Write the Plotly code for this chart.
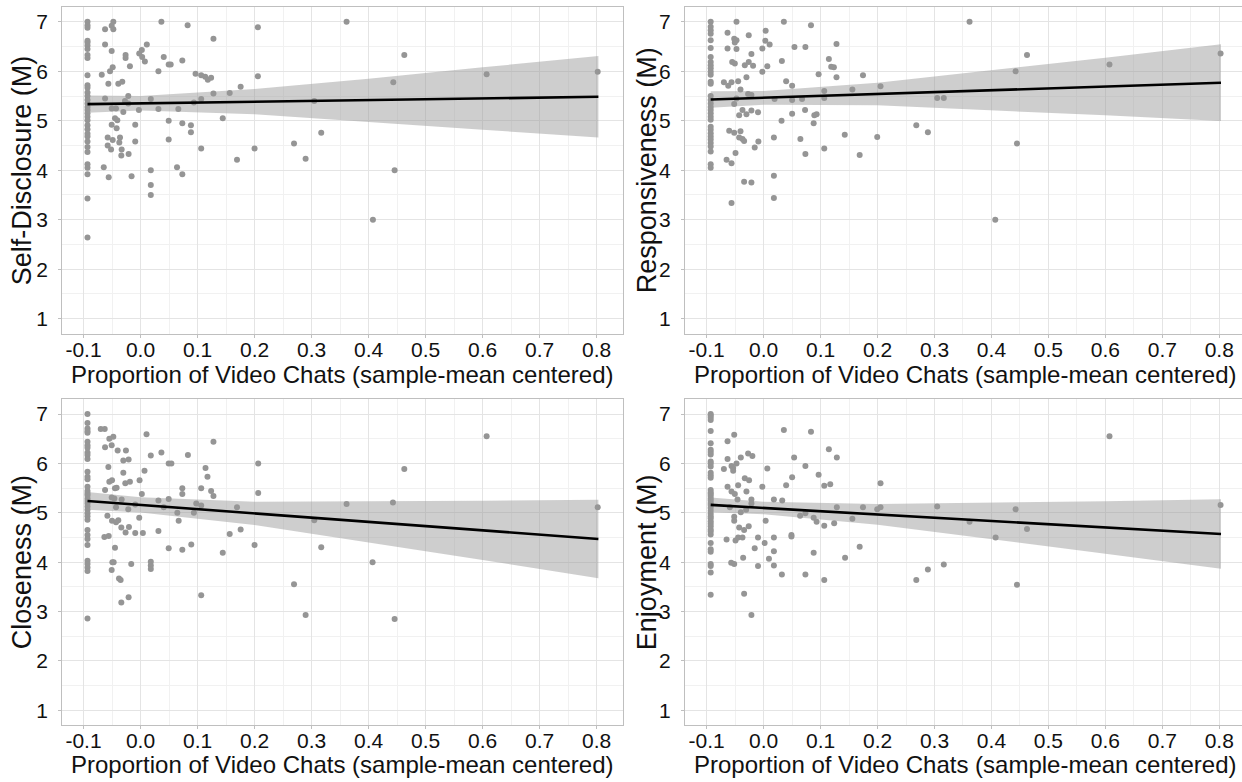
import plotly.graph_objects as go

# ---------------- data ----------------
x_ticks = [-0.1, 0.0, 0.1, 0.2, 0.3, 0.4, 0.5, 0.6, 0.7, 0.8]
x_tick_labels = ["-0.1", "0.0", "0.1", "0.2", "0.3", "0.4", "0.5", "0.6", "0.7", "0.8"]
x_minor = [-0.05, 0.05, 0.15, 0.25, 0.35, 0.45, 0.55, 0.65, 0.75]
y_ticks = [1, 2, 3, 4, 5, 6, 7]
y_tick_labels = ["1", "2", "3", "4", "5", "6", "7"]
y_minor = [1.5, 2.5, 3.5, 4.5, 5.5, 6.5]

x_title = "Proportion of Video Chats (sample-mean centered)"
y_titles = ["Self-Disclosure (M)", "Responsiveness (M)", "Closeness (M)", "Enjoyment (M)"]

# participants with no video chats all sit at the same centered value
x_floor = -0.093

sd_floor_y = [7.0, 6.93, 6.88, 6.62, 6.58, 6.52, 6.45, 6.33, 6.27, 5.92, 5.72, 5.67, 5.57, 5.5,
              5.42, 5.35, 5.28, 5.22, 5.15, 5.08, 5.01, 4.91, 4.83, 4.74, 4.68, 4.58, 4.47, 4.37,
              4.12, 4.05, 3.92, 3.43, 2.64]
sd_points = [(-0.0622, 6.85), (-0.0477, 7.0), (-0.0506, 6.92), (-0.0477, 6.85), (-0.0622, 6.54),
             (-0.0506, 6.41), (-0.068, 5.93), (-0.0535, 6.0), (-0.0488, 6.08), (-0.0564, 5.75),
             (-0.039, 5.75), (-0.032, 5.79), (-0.0622, 5.45), (-0.0506, 5.25), (-0.043, 5.25),
             (-0.0302, 5.18), (-0.0273, 5.40), (-0.0215, 5.50), (-0.0215, 5.35), (-0.0448, 5.05),
             (-0.0407, 5.01), (-0.0506, 4.92), (-0.0419, 4.85), (-0.0576, 4.66), (-0.0488, 4.61),
             (-0.036, 4.66), (-0.0372, 4.56), (-0.0576, 4.50), (-0.0517, 4.42), (-0.0331, 4.42),
             (-0.0337, 4.30), (-0.0209, 4.33), (-0.0093, 4.92), (-0.0093, 4.58), (-0.0645, 4.06),
             (-0.0558, 3.86), (-0.0157, 3.88), (-0.0029, 5.22), (-0.0262, 6.33), (-0.0262, 6.27),
             (-0.0186, 6.10), (-0.0023, 6.36), (0.0023, 6.43), (0.0029, 6.29), (0.0076, 6.20),
             (0.011, 6.54), (0.018, 5.44), (0.0314, 6.0), (0.0314, 5.24), (0.0366, 7.0),
             (0.0407, 6.29), (0.0494, 6.14), (0.0529, 6.14), (0.0494, 5.0), (0.0494, 4.62),
             (0.0663, 5.24), (0.0733, 6.22), (0.0733, 4.95), (0.064, 4.06), (0.0733, 3.92),
             (0.018, 4.0), (0.018, 3.70), (0.018, 3.50), (0.0826, 6.93), (0.0884, 4.91),
             (0.0884, 4.77), (0.0936, 5.37), (0.0965, 5.95), (0.1064, 5.92), (0.1064, 5.44),
             (0.1064, 4.44), (0.1134, 5.89), (0.118, 5.83), (0.1238, 5.87), (0.1279, 6.66),
             (0.1279, 5.55), (0.1442, 5.05), (0.1564, 5.56), (0.1692, 4.21), (0.1756, 5.69),
             (0.2, 4.44), (0.2058, 6.89), (0.2058, 5.90), (0.2692, 4.54), (0.2895, 4.23),
             (0.3047, 5.40), (0.3169, 4.76), (0.3614, 7.0), (0.4626, 6.33), (0.4433, 5.78),
             (0.4456, 4.0), (0.4076, 3.0), (0.607, 5.94), (0.8018, 5.99)]

resp_floor_y = [7.0, 6.9, 6.83, 6.76, 6.63, 6.47, 6.29, 6.19, 6.12, 6.06, 5.99, 5.93, 5.79, 5.75,
                5.5, 5.42, 5.35, 5.28, 5.22, 5.15, 5.08, 5.02, 4.88, 4.82, 4.75, 4.68, 4.62, 4.55,
                4.48, 4.38, 4.12, 4.05]
resp_points = [(-0.0477, 7.0), (-0.0634, 6.78), (-0.0262, 6.73), (-0.0517, 6.66), (-0.0477, 6.63),
               (-0.0506, 6.58), (-0.0634, 6.46), (-0.0477, 6.45), (-0.0215, 6.35), (-0.0552, 6.19),
               (-0.0506, 6.16), (-0.0331, 6.12), (-0.0262, 6.19), (-0.0186, 6.11), (-0.0023, 6.46),
               (0.0035, 6.82), (0.0029, 6.62), (0.0105, 6.54), (0.0355, 7.0), (0.0831, 6.93),
               (0.0541, 6.49), (0.0733, 6.49), (0.1279, 6.55), (0.1145, 6.25), (0.1186, 6.09),
               (0.1233, 6.08), (0.032, 6.21), (0.0064, 6.10), (-0.0023, 5.99), (-0.0302, 5.88),
               (-0.0698, 5.78), (-0.0622, 5.71), (-0.0564, 5.78), (-0.0448, 5.80), (-0.0407, 5.63),
               (-0.0477, 5.45), (-0.0273, 5.54), (-0.0215, 5.52), (-0.0517, 5.34), (-0.043, 5.11),
               (-0.0372, 5.22), (-0.0302, 5.13), (-0.0215, 5.21), (-0.0099, 5.17), (0.0192, 5.44),
               (0.0395, 5.80), (0.05, 5.71), (0.05, 5.42), (0.0674, 5.44), (0.0965, 5.94),
               (0.1064, 5.60), (0.1064, 5.46), (0.1279, 5.88), (0.1558, 5.63), (0.1744, 5.92),
               (0.2052, 5.70), (0.0314, 5.0), (0.05, 5.14), (0.0727, 5.22), (0.089, 5.11),
               (0.093, 5.13), (0.0878, 4.95), (-0.0605, 4.80), (-0.0517, 4.76), (-0.0407, 4.79),
               (-0.043, 4.66), (-0.0372, 4.63), (-0.0343, 4.59), (-0.0093, 4.58), (0.018, 4.66),
               (0.0645, 4.63), (-0.0157, 4.46), (-0.0494, 4.35), (-0.0651, 4.21), (-0.0564, 4.14),
               (0.0733, 4.33), (0.1064, 4.44), (0.1424, 4.72), (0.1686, 4.31), (0.1994, 4.67),
               (0.268, 4.91), (0.2884, 4.77), (0.3047, 5.46), (0.3163, 5.46), (-0.0343, 3.77),
               (-0.0215, 3.75), (0.018, 3.89), (0.018, 3.44), (-0.0564, 3.34), (0.3615, 7.0),
               (0.4624, 6.33), (0.4424, 6.0), (0.4448, 4.54), (0.4067, 3.0), (0.6072, 6.14),
               (0.8023, 6.36)]

clos_floor_y = [7.0, 6.82, 6.71, 6.66, 6.62, 6.44, 6.37, 6.32, 6.22, 6.17, 6.09, 5.83, 5.73, 5.68,
                5.53, 5.44, 5.39, 5.35, 5.29, 5.24, 5.19, 5.13, 5.06, 4.99, 4.93, 4.86, 4.65, 4.55,
                4.47, 4.35, 4.03, 3.96, 3.89, 3.82, 2.86]
clos_points = [(-0.0698, 6.70), (-0.0628, 6.70), (-0.0547, 6.50), (-0.0477, 6.54), (-0.0506, 6.37),
               (-0.0622, 6.33), (-0.0401, 6.26), (-0.0256, 6.26), (-0.0302, 6.06), (-0.0209, 6.08),
               (0.0105, 6.59), (0.018, 6.16), (0.0366, 6.22), (0.0494, 6.0), (0.0541, 6.0),
               (0.0831, 6.17), (0.1279, 6.44), (0.114, 5.91), (0.1174, 5.73), (-0.0564, 5.93),
               (-0.0547, 5.63), (-0.05, 5.66), (-0.0302, 5.81), (-0.0267, 5.60), (-0.0186, 5.63),
               (0.007, 5.85), (-0.0017, 5.66), (-0.0622, 5.46), (-0.0448, 5.50), (-0.0419, 5.51),
               (-0.0506, 5.31), (-0.0459, 5.29), (-0.0331, 5.27), (-0.043, 5.11), (-0.0215, 5.07),
               (-0.0093, 5.17), (0.0023, 5.38), (0.0314, 5.25), (0.0407, 5.11), (0.0494, 5.28),
               (0.0733, 5.50), (0.0733, 5.38), (0.0977, 5.19), (0.1064, 5.50), (0.1064, 5.15),
               (0.1238, 5.44), (0.1279, 5.34), (0.1692, 5.11), (0.2064, 6.0), (0.2064, 5.40),
               (0.0645, 5.0), (0.0669, 4.84), (0.0936, 5.0), (-0.0581, 4.94), (-0.05, 4.84),
               (-0.043, 4.81), (-0.039, 4.85), (-0.0337, 4.70), (-0.0262, 4.60), (-0.0203, 4.71),
               (-0.0093, 4.59), (0.0041, 4.59), (-0.0023, 4.90), (0.0314, 4.63), (-0.0634, 4.51),
               (-0.0558, 4.53), (-0.0448, 4.29), (0.0494, 4.28), (0.0733, 4.25), (0.089, 4.36),
               (0.1442, 4.19), (0.1564, 4.57), (0.1756, 4.66), (0.2, 4.35), (-0.0494, 4.0),
               (-0.0471, 4.0), (-0.0506, 3.84), (-0.0163, 3.96), (0.018, 4.01), (0.018, 3.93),
               (0.018, 3.86), (-0.0378, 3.67), (-0.0349, 3.64), (-0.0337, 3.18), (-0.0209, 3.29),
               (0.1064, 3.33), (0.2692, 3.55), (0.2895, 2.93), (0.3047, 4.85), (0.3169, 4.30),
               (0.3614, 5.18), (0.4427, 5.21), (0.4626, 5.89), (0.607, 6.55), (0.8018, 5.11),
               (0.407, 4.0), (0.4456, 2.85)]

enj_floor_y = [7.0, 6.97, 6.93, 6.88, 6.66, 6.41, 6.28, 6.23, 6.18, 6.04, 6.0, 5.94, 5.81, 5.76,
               5.71, 5.46, 5.41, 5.38, 5.34, 5.29, 5.25, 5.20, 5.16, 5.10, 5.04, 4.98, 4.93, 4.89,
               4.83, 4.78, 4.73, 4.66, 4.62, 4.56, 4.39, 4.26, 4.21, 3.96, 3.92, 3.79, 3.34]
enj_points = [(-0.0517, 6.58), (-0.0634, 6.45), (-0.0634, 6.09), (-0.0401, 6.12), (-0.0273, 6.20),
              (-0.0198, 6.15), (-0.0698, 5.89), (-0.0564, 5.95), (-0.0535, 5.91), (-0.0535, 5.85),
              (-0.0477, 6.0), (-0.0331, 5.70), (-0.0256, 5.66), (0.0064, 5.90), (0.0355, 6.68),
              (0.0831, 6.64), (0.0535, 6.12), (0.0733, 5.95), (0.0965, 5.77), (0.1145, 6.29),
              (0.1285, 6.12), (0.1064, 5.55), (0.1169, 5.58), (0.2052, 5.60), (-0.0634, 5.53),
              (-0.0564, 5.43), (-0.0506, 5.38), (-0.0448, 5.56), (-0.0459, 5.27), (-0.0302, 5.43),
              (-0.0215, 5.27), (-0.0215, 5.19), (-0.0023, 5.53), (0.018, 5.27), (0.0326, 5.25),
              (0.0395, 5.56), (0.05, 5.72), (-0.0593, 5.11), (-0.0401, 5.01), (-0.0308, 5.06),
              (-0.0517, 4.92), (-0.0517, 4.84), (-0.043, 4.70), (-0.0343, 4.65), (-0.0262, 4.73),
              (0.0035, 4.84), (0.064, 4.94), (0.0733, 4.99), (0.0878, 4.90), (0.093, 4.82),
              (0.1064, 4.74), (0.1238, 4.79), (0.1285, 5.11), (0.1558, 4.88), (0.1744, 5.11),
              (0.1994, 5.07), (0.2052, 5.11), (0.3047, 5.13), (-0.0651, 4.46), (-0.0494, 4.44),
              (-0.0448, 4.50), (-0.0372, 4.50), (-0.0099, 4.50), (0.0017, 4.39), (0.018, 4.50),
              (0.0488, 4.55), (0.0488, 4.52), (-0.0157, 4.28), (0.018, 4.22), (0.0878, 4.19),
              (0.1686, 4.31), (0.143, 4.09), (-0.036, 4.09), (0.0093, 4.07), (-0.057, 3.99),
              (-0.0517, 3.96), (-0.0099, 3.92), (0.018, 3.93), (0.032, 3.75), (0.0733, 3.75),
              (0.1064, 3.64), (0.268, 3.64), (0.2884, 3.85), (0.3163, 3.95), (-0.0343, 3.36),
              (-0.0215, 2.93), (0.3615, 4.82), (0.4073, 4.50), (0.4424, 5.07), (0.4624, 4.67),
              (0.4448, 3.54), (0.6072, 6.55), (0.8023, 5.16)]

# fitted regression line (ends) and its confidence band
fit_x = [-0.093, 0.803]
ci_x = [-0.093, 0.0, 0.2, 0.4, 0.6, 0.803]

sd_fit = [5.337, 5.485]
sd_ci_upper = [5.51, 5.50, 5.64, 5.85, 6.08, 6.31]
sd_ci_lower = [5.16, 5.21, 5.13, 4.98, 4.82, 4.66]

resp_fit = [5.43, 5.77]
resp_ci_upper = [5.595, 5.604, 5.769, 6.016, 6.276, 6.545]
resp_ci_lower = [5.265, 5.326, 5.313, 5.218, 5.11, 4.995]

clos_fit = [5.24, 4.47]
clos_ci_upper = [5.42, 5.316, 5.224, 5.229, 5.242, 5.265]
clos_ci_lower = [5.06, 5.004, 4.752, 4.403, 4.046, 3.675]

enj_fit = [5.16, 4.57]
enj_ci_upper = [5.31, 5.225, 5.177, 5.202, 5.236, 5.275]
enj_ci_lower = [5.01, 4.973, 4.757, 4.47, 4.172, 3.865]

# ---------------- styling / layout ----------------
W, H = 1242, 782
FONT = "Liberation Sans, Arial, Helvetica, sans-serif"
TXT = "#111111"
POINT = "#959595"
BAND = "rgba(153,153,153,0.48)"
GRID_MAJOR = "#e4e4e4"
GRID_MINOR = "#f1f1f1"
BORDER = "#bfbfbf"

# panel boxes in pixels: (left, right, top, bottom)
boxes = [(62.3, 623.3, 7.0, 333.5), (685.0, 1242.0, 7.0, 333.5),
         (62.3, 623.3, 399.3, 725.0), (685.0, 1242.0, 399.3, 725.0)]
x_ranges = [[-0.1372, 0.8467], [-0.1381, 0.8399], [-0.1372, 0.8467], [-0.1381, 0.8399]]
y_range = [0.7, 7.3]
x_title_y = [374.5, 374.5, 764.0, 764.0]

panels = [
    (sd_floor_y, sd_points, sd_fit, sd_ci_upper, sd_ci_lower),
    (resp_floor_y, resp_points, resp_fit, resp_ci_upper, resp_ci_lower),
    (clos_floor_y, clos_points, clos_fit, clos_ci_upper, clos_ci_lower),
    (enj_floor_y, enj_points, enj_fit, enj_ci_upper, enj_ci_lower),
]

fig = go.Figure()
layout = dict(
    width=W, height=H, margin=dict(l=0, r=0, t=0, b=0),
    paper_bgcolor="white", plot_bgcolor="white", showlegend=False,
    font=dict(family=FONT, color=TXT),
)
annotations = []

for i, (floor_y, pts, fit, up, lo) in enumerate(panels):
    n = i + 1
    xa = "x" if n == 1 else f"x{n}"
    ya = "y" if n == 1 else f"y{n}"
    px = [x_floor] * len(floor_y) + [p[0] for p in pts]
    py = list(floor_y) + [p[1] for p in pts]

    fig.add_trace(go.Scatter(x=px, y=py, mode="markers", xaxis=xa, yaxis=ya,
                             marker=dict(color=POINT, size=6, line=dict(width=0)),
                             hoverinfo="skip"))
    fig.add_trace(go.Scatter(x=ci_x, y=lo, mode="lines", xaxis=xa, yaxis=ya,
                             line=dict(width=0, color=BAND), hoverinfo="skip"))
    fig.add_trace(go.Scatter(x=ci_x, y=up, mode="lines", xaxis=xa, yaxis=ya,
                             line=dict(width=0, color=BAND), fill="tonexty",
                             fillcolor=BAND, hoverinfo="skip"))
    fig.add_trace(go.Scatter(x=fit_x, y=fit, mode="lines", xaxis=xa, yaxis=ya,
                             line=dict(color="black", width=2.6), hoverinfo="skip"))

    l, r, t, b = boxes[i]
    right_col = n in (2, 4)
    layout["xaxis" if n == 1 else f"xaxis{n}"] = dict(
        domain=[l / W, r / W], anchor=ya, range=x_ranges[i],
        tickmode="array", tickvals=x_ticks, ticktext=x_tick_labels,
        showgrid=True, gridcolor=GRID_MAJOR, gridwidth=1.1,
        minor=dict(tickmode="array", tickvals=x_minor, showgrid=True,
                   gridcolor=GRID_MINOR, gridwidth=1, ticks=""),
        showline=True, linecolor=BORDER, linewidth=1.2, mirror=True,
        ticks="outside", ticklen=3, tickcolor=BORDER, tickwidth=1,
        tickfont=dict(size=21, color=TXT, family=FONT),
        ticklabelstandoff=-6, zeroline=False, fixedrange=True,
    )
    layout["yaxis" if n == 1 else f"yaxis{n}"] = dict(
        domain=[1 - b / H, 1 - t / H], anchor=xa, range=y_range,
        tickmode="array", tickvals=y_ticks, ticktext=y_tick_labels,
        showgrid=True, gridcolor=GRID_MAJOR, gridwidth=1.1,
        minor=dict(tickmode="array", tickvals=y_minor, showgrid=True,
                   gridcolor=GRID_MINOR, gridwidth=1, ticks=""),
        showline=True, linecolor=BORDER, linewidth=1.2, mirror=(not right_col),
        ticks="outside", ticklen=3, tickcolor=BORDER, tickwidth=1,
        tickfont=dict(size=21, color=TXT, family=FONT),
        ticklabelstandoff=6, zeroline=False, fixedrange=True,
    )

    # axis titles
    title_x_px = 22 if not right_col else 647
    annotations.append(dict(text=y_titles[i], xref="paper", yref="paper",
                            x=title_x_px / W, y=1 - ((t + b) / 2) / H,
                            xanchor="center", yanchor="middle", textangle=-90,
                            showarrow=False, font=dict(size=27, color=TXT, family=FONT)))
    xt_center = (l + (r if not right_col else 1246.0)) / 2
    annotations.append(dict(text=x_title, xref="paper", yref="paper",
                            x=xt_center / W, y=1 - x_title_y[i] / H,
                            xanchor="center", yanchor="middle",
                            showarrow=False, font=dict(size=24, color=TXT, family=FONT)))

layout["annotations"] = annotations
fig.update_layout(**layout)
fig.write_html("out.html")
